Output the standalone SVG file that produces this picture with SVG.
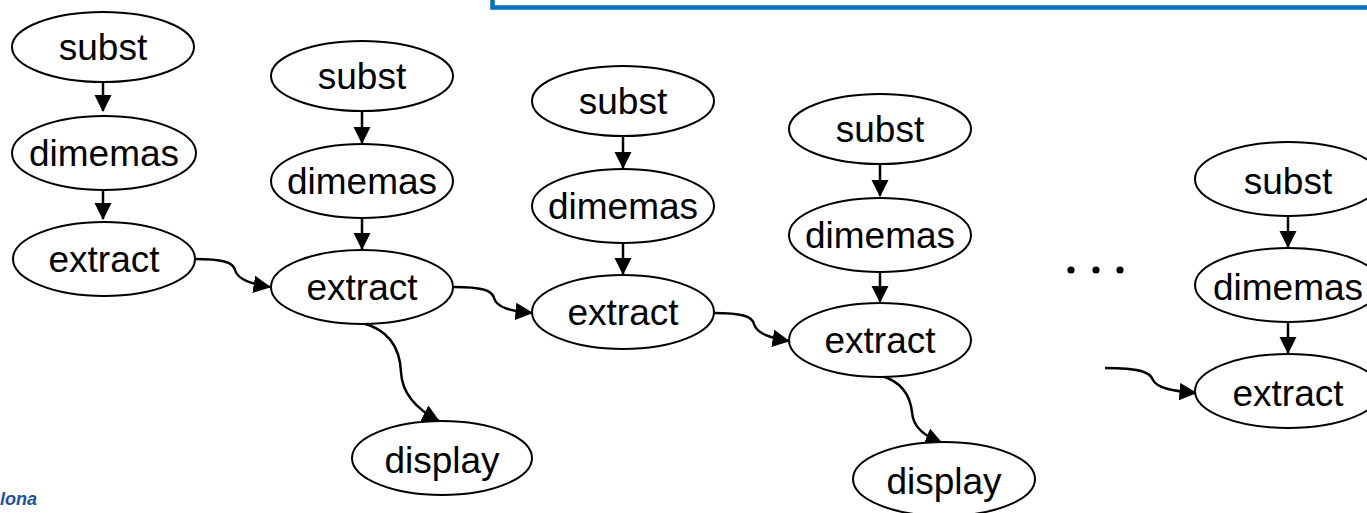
<svg xmlns="http://www.w3.org/2000/svg" width="1367" height="513" viewBox="0 0 1367 513">
<style>
.n ellipse{fill:#fff;stroke:#000;stroke-width:2}
.n text{font-family:"Liberation Sans",Arial,sans-serif;font-size:37px;fill:#000;text-anchor:middle;dominant-baseline:central}
.c path{fill:none;stroke:#000;stroke-width:2.5}
</style>
<defs>
<marker id="ah" markerWidth="7" markerHeight="7" refX="6.6" refY="3.5" orient="auto" markerUnits="strokeWidth">
<path d="M0,0 L7,3.5 L0,7 Z" fill="#000"/>
</marker>
</defs>
<rect width="1367" height="513" fill="#fff"/>
<path d="M492.5,-5 V7.5 H1372" fill="none" stroke="#0070C0" stroke-width="4.5"/>
<text x="0" y="505" font-family="Liberation Sans,Arial,sans-serif" font-size="18" font-weight="bold" font-style="italic" fill="#1F4FA0">lona</text>
<g id="dots" fill="#000">
<circle cx="1071" cy="270" r="3.6"/><circle cx="1096" cy="270" r="3.6"/><circle cx="1120" cy="270" r="3.6"/>
</g>
<g class="c" id="connectors">
<path d="M103,83 V111" marker-end="url(#ah)"/>
<path d="M103,189 V219" marker-end="url(#ah)"/>
<path d="M362,112 V143" marker-end="url(#ah)"/>
<path d="M362,218 V249" marker-end="url(#ah)"/>
<path d="M623,137 V168" marker-end="url(#ah)"/>
<path d="M623,243 V274" marker-end="url(#ah)"/>
<path d="M880,165 V196" marker-end="url(#ah)"/>
<path d="M880,272 V302" marker-end="url(#ah)"/>
<path d="M1288,216 V247" marker-end="url(#ah)"/>
<path d="M1288,322 V353" marker-end="url(#ah)"/>
<path d="M195,259 C222,259 233,262 235,270 C238,280 252,284 270,287" marker-end="url(#ah)"/>
<path d="M454,287 C481,287 492,290 494,298 C497,308 511,311 532,313" marker-end="url(#ah)"/>
<path d="M714,313 C741,313 752,316 754,324 C757,334 771,338 789,341" marker-end="url(#ah)"/>
<path d="M1105,368 C1140,368 1150,372 1153,380 C1157,388 1172,391 1196,393" marker-end="url(#ah)"/>
<path d="M362,323 C390,330 400,350 401,372 C402,395 418,410 439,421" marker-end="url(#ah)"/>
<path d="M882,376 C902,382 910,395 912,412 C913,428 925,436 942,443" marker-end="url(#ah)"/>
</g>
<g class="n" id="subst1"><ellipse cx="103" cy="47" rx="91" ry="35"/><text x="103" y="47">subst</text></g>
<g class="n" id="dimemas1"><ellipse cx="104" cy="153" rx="92" ry="37"/><text x="104" y="153">dimemas</text></g>
<g class="n" id="extract1"><ellipse cx="104" cy="259" rx="91" ry="37"/><text x="104" y="259">extract</text></g>
<g class="n" id="subst2"><ellipse cx="362" cy="76" rx="91" ry="35"/><text x="362" y="76">subst</text></g>
<g class="n" id="dimemas2"><ellipse cx="362" cy="181" rx="91" ry="37"/><text x="362" y="181">dimemas</text></g>
<g class="n" id="extract2"><ellipse cx="362" cy="287" rx="91" ry="37"/><text x="362" y="287">extract</text></g>
<g class="n" id="display2"><ellipse cx="442" cy="458" rx="90" ry="37"/><text x="442" y="460">display</text></g>
<g class="n" id="subst3"><ellipse cx="623" cy="101" rx="91" ry="35"/><text x="623" y="101">subst</text></g>
<g class="n" id="dimemas3"><ellipse cx="623" cy="206" rx="91" ry="37"/><text x="623" y="206">dimemas</text></g>
<g class="n" id="extract3"><ellipse cx="623" cy="312" rx="91" ry="37"/><text x="623" y="312">extract</text></g>
<g class="n" id="subst4"><ellipse cx="880" cy="129" rx="91" ry="35"/><text x="880" y="129">subst</text></g>
<g class="n" id="dimemas4"><ellipse cx="880" cy="235" rx="91" ry="37"/><text x="880" y="235">dimemas</text></g>
<g class="n" id="extract4"><ellipse cx="880" cy="340" rx="91" ry="37"/><text x="880" y="340">extract</text></g>
<g class="n" id="display4"><ellipse cx="944" cy="479" rx="91" ry="37"/><text x="944" y="481">display</text></g>
<g class="n" id="subst5"><ellipse cx="1288" cy="179" rx="93" ry="37"/><text x="1288" y="181">subst</text></g>
<g class="n" id="dimemas5"><ellipse cx="1288" cy="285" rx="93" ry="37"/><text x="1288" y="287">dimemas</text></g>
<g class="n" id="extract5"><ellipse cx="1288" cy="391" rx="93" ry="37"/><text x="1288" y="393">extract</text></g>
</svg>
